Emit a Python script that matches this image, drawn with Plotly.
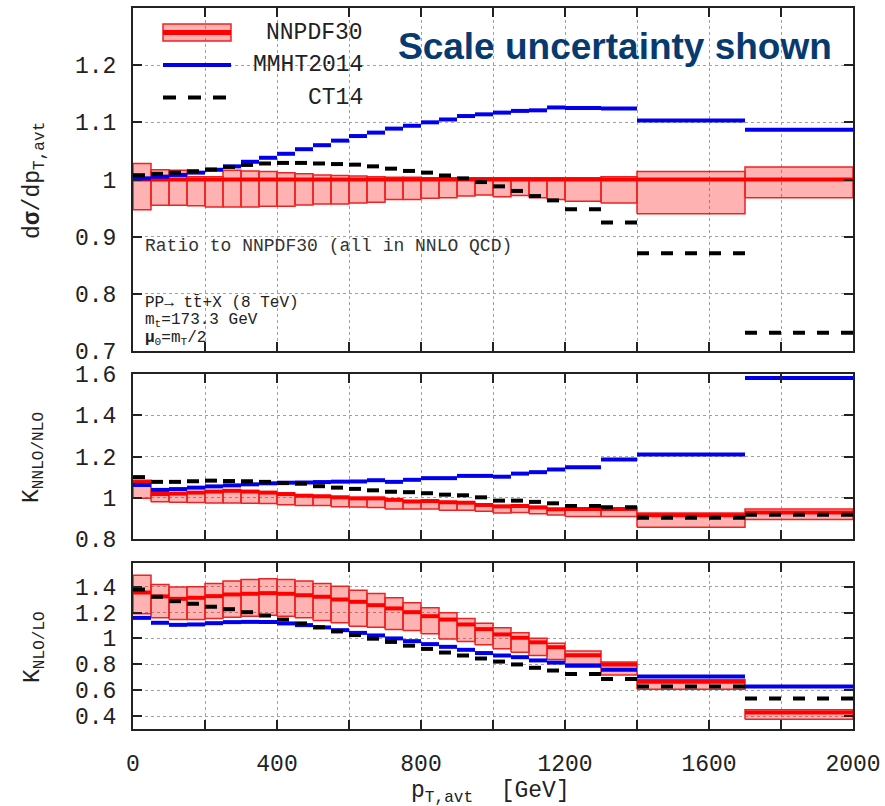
import plotly.graph_objects as go

# ---------------- data ----------------
bin_edges = [0, 50, 100, 150, 200, 250, 300, 350, 400, 450, 500, 550, 600, 650,
             700, 750, 800, 850, 900, 950, 1000, 1050, 1100, 1150, 1200, 1300,
             1400, 1700, 2000]

# top panel: ratio to NNPDF30
top_nnpdf = [1.0] * 28
top_nnpdf_up = [1.028, 1.017, 1.016, 1.005, 1.005, 1.016, 1.015, 1.014, 1.012, 1.010,
                1.008, 1.007, 1.006, 1.005, 1.004, 1.004, 1.003, 1.003, 1.003, 1.003,
                1.003, 1.003, 1.003, 1.003, 1.003, 1.005, 1.014, 1.022]
top_nnpdf_lo = [0.947, 0.955, 0.955, 0.954, 0.952, 0.952, 0.952, 0.953, 0.953, 0.9555,
                0.957, 0.957, 0.959, 0.960, 0.965, 0.965, 0.967, 0.968, 0.971, 0.973,
                0.970, 0.972, 0.968, 0.965, 0.962, 0.959, 0.940, 0.968]
top_mmht = [1.002, 1.005, 1.008, 1.012, 1.017, 1.023, 1.031, 1.038, 1.045, 1.053,
            1.060, 1.068, 1.076, 1.082, 1.089, 1.094, 1.100, 1.105, 1.111, 1.114,
            1.117, 1.120, 1.121, 1.126, 1.125, 1.124, 1.103, 1.087]
top_ct14 = [1.0075, 1.010, 1.012, 1.0145, 1.0175, 1.022, 1.0255, 1.028, 1.029, 1.029,
            1.028, 1.027, 1.026, 1.023, 1.019, 1.015, 1.012, 1.007, 1.002, 0.9955,
            0.988, 0.980, 0.971, 0.9635, 0.948, 0.925, 0.871, 0.732]

# middle panel: K NNLO/NLO
mid_nnpdf = [1.075, 1.018, 1.020, 1.025, 1.030, 1.034, 1.030, 1.025, 1.018, 1.010,
             1.007, 1.002, 0.997, 0.997, 0.990, 0.982, 0.984, 0.978, 0.976, 0.965,
             0.958, 0.960, 0.953, 0.944, 0.945, 0.946, 0.915, 0.928]
mid_nnpdf_up = [1.085, 1.022, 1.024, 1.029, 1.034, 1.038, 1.034, 1.029, 1.022, 1.014,
                1.011, 1.006, 1.001, 1.001, 0.994, 0.986, 0.988, 0.982, 0.980, 0.969,
                0.962, 0.964, 0.957, 0.948, 0.949, 0.950, 0.926, 0.946]
mid_nnpdf_lo = [0.997, 0.981, 0.978, 0.977, 0.975, 0.974, 0.973, 0.972, 0.966, 0.962,
                0.962, 0.956, 0.955, 0.953, 0.946, 0.946, 0.945, 0.940, 0.939, 0.934,
                0.926, 0.928, 0.922, 0.916, 0.909, 0.909, 0.857, 0.894]
mid_mmht = [1.062, 1.038, 1.042, 1.049, 1.055, 1.060, 1.065, 1.070, 1.073, 1.074,
            1.076, 1.078, 1.079, 1.085, 1.077, 1.087, 1.095, 1.095, 1.106, 1.106,
            1.102, 1.117, 1.124, 1.137, 1.148, 1.186, 1.210, 1.581]
mid_ct14 = [1.100, 1.077, 1.077, 1.080, 1.083, 1.081, 1.080, 1.077, 1.071, 1.068,
            1.056, 1.049, 1.043, 1.036, 1.029, 1.027, 1.022, 1.015, 1.012, 1.002,
            0.986, 0.986, 0.980, 0.973, 0.960, 0.954, 0.903, 0.917]

# bottom panel: K NLO/LO
bot_nnpdf = [1.355, 1.325, 1.306, 1.314, 1.327, 1.340, 1.345, 1.350, 1.345, 1.334,
             1.322, 1.301, 1.283, 1.257, 1.232, 1.203, 1.172, 1.146, 1.108, 1.072,
             1.031, 1.005, 0.970, 0.932, 0.870, 0.799, 0.665, 0.428]
bot_nnpdf_up = [1.488, 1.417, 1.397, 1.400, 1.425, 1.443, 1.455, 1.461, 1.455, 1.443,
                1.425, 1.404, 1.373, 1.347, 1.314, 1.275, 1.237, 1.198, 1.155, 1.118,
                1.082, 1.044, 1.002, 0.962, 0.902, 0.817, 0.680, 0.448]
bot_nnpdf_lo = [1.190, 1.160, 1.147, 1.147, 1.154, 1.164, 1.172, 1.180, 1.172, 1.160,
                1.139, 1.121, 1.095, 1.087, 1.069, 1.061, 1.036, 0.995, 0.976, 0.952,
                0.920, 0.894, 0.869, 0.838, 0.803, 0.718, 0.608, 0.376]
bot_mmht = [1.159, 1.121, 1.105, 1.108, 1.118, 1.126, 1.128, 1.127, 1.116, 1.103,
            1.085, 1.064, 1.043, 1.023, 1.000, 0.979, 0.956, 0.935, 0.912, 0.887,
            0.868, 0.855, 0.830, 0.813, 0.788, 0.757, 0.705, 0.628]
bot_ct14 = [1.378, 1.322, 1.288, 1.268, 1.245, 1.226, 1.203, 1.177, 1.146, 1.116,
            1.087, 1.054, 1.026, 0.998, 0.973, 0.944, 0.919, 0.891, 0.868, 0.845,
            0.821, 0.799, 0.773, 0.752, 0.725, 0.686, 0.629, 0.536]

x_tickvals = [0, 400, 800, 1200, 1600, 2000]
x_ticktext = ["0", "400", "800", "1200", "1600", "2000"]
x_minor_tickvals = [200, 600, 1000, 1400, 1800]
top_yticks = [0.7, 0.8, 0.9, 1.0, 1.1, 1.2]
top_yticktext = ["0.7", "0.8", "0.9", "1", "1.1", "1.2"]
mid_yticks = [0.8, 1.0, 1.2, 1.4, 1.6]
mid_yticktext = ["0.8", "1", "1.2", "1.4", "1.6"]
bot_yticks = [0.4, 0.6, 0.8, 1.0, 1.2, 1.4]
bot_yticktext = ["0.4", "0.6", "0.8", "1", "1.2", "1.4"]

# ---------------- styling ----------------
RED = "#ff0000"
RED_EDGE = "#ee2222"
PINK = "rgba(255,0,0,0.30)"
BLUE = "#0000ee"
BLACK = "#000000"
MONO = "Liberation Mono"
TXT = "#222222"

W, H = 885, 806
L, R, T, B = 133, 32, 8, 77
PW, PH = W - L - R, H - T - B


def xp(px):
    return (px - L) / PW


def yp(py):
    return (H - B - py) / PH


def steps(vals):
    xs, ys = [], []
    for i, v in enumerate(vals):
        xs += [bin_edges[i], bin_edges[i + 1], None]
        ys += [v, v, None]
    return xs, ys


def boxes(lo, up):
    xs, ys = [], []
    for i in range(len(lo)):
        a, b = bin_edges[i], bin_edges[i + 1]
        xs += [a, b, b, a, a, None]
        ys += [lo[i], lo[i], up[i], up[i], lo[i], None]
    return xs, ys


fig = go.Figure()

panels = [
    ("x", "y", top_nnpdf, top_nnpdf_lo, top_nnpdf_up, top_mmht, top_ct14),
    ("x2", "y2", mid_nnpdf, mid_nnpdf_lo, mid_nnpdf_up, mid_mmht, mid_ct14),
    ("x3", "y3", bot_nnpdf, bot_nnpdf_lo, bot_nnpdf_up, bot_mmht, bot_ct14),
]

for xa, ya, c, lo, up, mm, ct in panels:
    bx, by = boxes(lo, up)
    fig.add_trace(go.Scatter(x=bx, y=by, xaxis=xa, yaxis=ya, mode="lines",
                             fill="toself", fillcolor=PINK,
                             line=dict(color=RED_EDGE, width=1.5),
                             showlegend=False, hoverinfo="skip"))
    sx, sy = steps(c)
    fig.add_trace(go.Scatter(x=sx, y=sy, xaxis=xa, yaxis=ya, mode="lines",
                             line=dict(color=RED, width=4), showlegend=False))
    sx, sy = steps(mm)
    fig.add_trace(go.Scatter(x=sx, y=sy, xaxis=xa, yaxis=ya, mode="lines",
                             line=dict(color=BLUE, width=4), showlegend=False))
    sx, sy = steps(ct)
    fig.add_trace(go.Scatter(x=sx, y=sy, xaxis=xa, yaxis=ya, mode="lines",
                             line=dict(color=BLACK, width=4, dash="12px,12px"),
                             showlegend=False))

axis_common = dict(showline=True, linecolor="#222", linewidth=2, mirror="allticks",
                   ticks="inside", ticklen=9, tickwidth=1.5, tickcolor="#222",
                   showgrid=True, gridcolor="#a0a0a0", griddash="dot", gridwidth=1,
                   zeroline=False, automargin=False,
                   tickfont=dict(family=MONO, size=23, color=TXT))
x_minor = dict(tickvals=x_minor_tickvals, ticks="inside", ticklen=9, tickwidth=1.5,
               tickcolor="#222", showgrid=True, gridcolor="#a0a0a0", griddash="dot",
               gridwidth=1)

dom_top = [yp(351), 1.0]
dom_mid = [yp(539), yp(374)]
dom_bot = [0.0, yp(563)]

layout = dict(
    width=W, height=H, margin=dict(l=L, r=R, t=T, b=B, autoexpand=False),
    paper_bgcolor="white", plot_bgcolor="white", showlegend=False,
    xaxis=dict(axis_common, domain=[0, 1], range=[0, 2000], anchor="y",
               tickvals=x_tickvals, showticklabels=False, minor=x_minor),
    xaxis2=dict(axis_common, domain=[0, 1], range=[0, 2000], anchor="y2",
                tickvals=x_tickvals, showticklabels=False, minor=x_minor),
    xaxis3=dict(axis_common, domain=[0, 1], range=[0, 2000], anchor="y3",
                tickvals=x_tickvals, ticktext=x_ticktext, ticklabelstandoff=12,
                minor=x_minor),
    yaxis=dict(axis_common, domain=dom_top, range=[0.7, 1.3], anchor="x",
               tickvals=top_yticks, ticktext=top_yticktext, ticklabelstandoff=10),
    yaxis2=dict(axis_common, domain=dom_mid, range=[0.8, 1.6], anchor="x2",
                tickvals=mid_yticks, ticktext=mid_yticktext, ticklabelstandoff=10),
    yaxis3=dict(axis_common, domain=dom_bot, range=[0.3, 1.583], anchor="x3",
                tickvals=bot_yticks, ticktext=bot_yticktext, ticklabelstandoff=10),
)
fig.update_layout(**layout)

# ---------------- legend (drawn inside top panel) ----------------
shapes = [
    dict(type="rect", xref="paper", yref="paper", x0=xp(163), x1=xp(231),
         y0=yp(41), y1=yp(24), fillcolor=PINK, line=dict(color=RED_EDGE, width=1.5)),
    dict(type="line", xref="paper", yref="paper", x0=xp(163), x1=xp(231),
         y0=yp(32.5), y1=yp(32.5), line=dict(color=RED, width=5)),
    dict(type="line", xref="paper", yref="paper", x0=xp(163), x1=xp(231),
         y0=yp(65), y1=yp(65), line=dict(color=BLUE, width=4)),
    dict(type="line", xref="paper", yref="paper", x0=xp(163), x1=xp(228),
         y0=yp(97.5), y1=yp(97.5), line=dict(color=BLACK, width=4, dash="13px,12px")),
]
fig.update_layout(shapes=shapes)

ann = []
for label, py in [("NNPDF30", 33), ("MMHT2014", 65), ("CT14", 98)]:
    ann.append(dict(xref="paper", yref="paper", x=xp(365), y=yp(py), text=label,
                    showarrow=False, xanchor="right", yanchor="middle",
                    font=dict(family=MONO, size=23, color=TXT)))

ann.append(dict(xref="paper", yref="paper", x=xp(615), y=yp(47),
                text="<b>Scale uncertainty shown</b>", showarrow=False,
                xanchor="center", yanchor="middle",
                font=dict(family="Liberation Sans", size=37, color="#073b6f")))

small = dict(family=MONO, size=18, color="#333333")
ann.append(dict(xref="paper", yref="paper", x=xp(143), y=yp(246),
                text="Ratio to NNPDF30 (all in NNLO QCD)", showarrow=False,
                xanchor="left", yanchor="middle", font=small))
small2 = dict(family=MONO, size=16, color="#222222")
ann.append(dict(xref="paper", yref="paper", x=xp(143), y=yp(303),
                text="PP\u2192 tt\u0304+X (8 TeV)", showarrow=False,
                xanchor="left", yanchor="middle", font=small2))
ann.append(dict(xref="paper", yref="paper", x=xp(143), y=yp(320),
                text="m<sub>t</sub>=173.3 GeV", showarrow=False,
                xanchor="left", yanchor="middle", font=small2))
ann.append(dict(xref="paper", yref="paper", x=xp(143), y=yp(338),
                text="<b>\u03bc</b><sub>0</sub>=m<sub>T</sub>/2", showarrow=False,
                xanchor="left", yanchor="middle", font=small2))

title_font = dict(family=MONO, size=23, color=TXT)
ann.append(dict(xref="paper", yref="paper", x=xp(34), y=yp(180),
                text="d<b>\u03c3</b>/dp<sub>T,avt</sub>", showarrow=False,
                textangle=-90, xanchor="center", yanchor="middle", font=title_font))
ann.append(dict(xref="paper", yref="paper", x=xp(34), y=yp(457),
                text="K<sub>NNLO/NLO</sub>", showarrow=False,
                textangle=-90, xanchor="center", yanchor="middle", font=title_font))
ann.append(dict(xref="paper", yref="paper", x=xp(34), y=yp(647),
                text="K<sub>NLO/LO</sub>", showarrow=False,
                textangle=-90, xanchor="center", yanchor="middle", font=title_font))
ann.append(dict(xref="paper", yref="paper", x=xp(490), y=yp(792),
                text="p<sub>T,avt</sub>  [GeV]", showarrow=False,
                xanchor="center", yanchor="middle", font=title_font))

fig.update_layout(annotations=ann)

fig.write_html("out.html")
